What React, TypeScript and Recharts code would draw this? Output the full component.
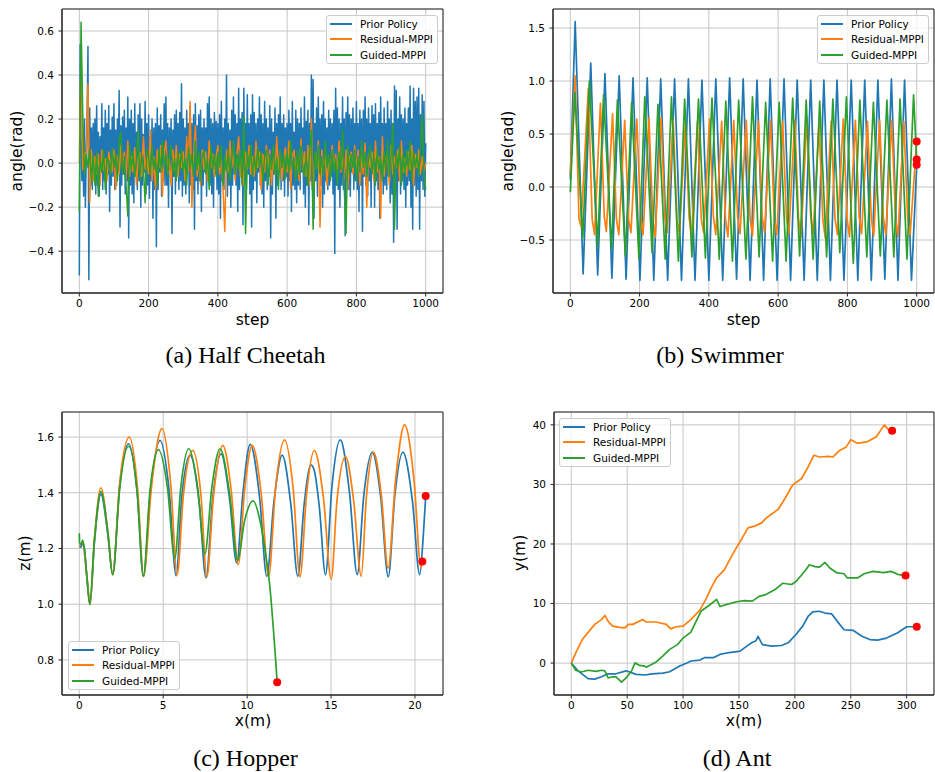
import React from 'react';
import { ComposedChart, Line, XAxis, YAxis, CartesianGrid, ReferenceArea, ReferenceDot } from 'recharts';

const COLORS = ['#1f77b4', '#ff7f0e', '#2ca02c'];
const SERIES_NAMES = ['Prior Policy', 'Residual-MPPI', 'Guided-MPPI'];

// ---------- (a) Half Cheetah ----------
const cheetahStepsFine = Array.from({ length: 401 }, (_, i) => i * 2.5);
const cheetahSteps = Array.from({ length: 201 }, (_, i) => i * 5);
const cheetahPrior = [
  -0.51, 0.54, 0.1, -0.08, 0.12, -0.15, 0.2, -0.2, 0.02, 0.22,
  0.53, -0.53, 0.25, -0.1, 0.16, -0.12, 0.18, -0.06, 0.2, -0.14,
  0.26, -0.1, 0.14, -0.15, 0.12, -0.04, 0.27, -0.12, 0.16, -0.08,
  0.24, -0.14, 0.18, -0.05, 0.26, -0.22, 0.15, -0.1, 0.21, -0.06,
  0.27, -0.12, 0.15, -0.1, 0.2, -0.02, 0.33, -0.29, 0.17, -0.1,
  0.21, -0.05, 0.24, -0.14, 0.16, -0.08, 0.3, -0.34, 0.2, -0.1,
  0.24, -0.14, 0.18, -0.18, 0.27, -0.06, 0.14, -0.12, 0.22, -0.08,
  0.27, -0.2, 0.2, -0.1, 0.13, -0.04, 0.28, -0.14, 0.18, -0.1,
  0.22, -0.16, 0.12, -0.08, 0.2, -0.25, 0.16, -0.12, 0.18, -0.38,
  0.25, -0.12, 0.17, -0.04, 0.22, -0.15, 0.15, -0.08, 0.27, -0.1,
  0.3, -0.1, 0.18, -0.2, 0.16, -0.03, 0.2, -0.32, 0.15, -0.06,
  0.22, -0.14, 0.24, -0.05, 0.18, -0.12, 0.23, -0.08, 0.36, -0.15,
  0.2, -0.1, 0.16, -0.14, 0.24, -0.04, 0.18, -0.18, 0.26, -0.1,
  0.18, -0.12, 0.22, -0.3, 0.27, -0.08, 0.17, -0.14, 0.22, -0.08,
  0.24, -0.22, 0.16, -0.1, 0.2, -0.04, 0.16, -0.15, 0.27, -0.08,
  0.3, -0.1, 0.2, -0.14, 0.18, -0.2, 0.23, -0.05, 0.19, -0.12,
  0.18, -0.14, 0.22, -0.25, 0.28, -0.08, 0.16, -0.12, 0.2, -0.03,
  0.4, -0.15, 0.18, -0.1, 0.15, -0.2, 0.24, -0.1, 0.3, -0.05,
  0.22, -0.1, 0.18, -0.22, 0.34, -0.12, 0.2, -0.04, 0.23, -0.28,
  0.34, -0.1, 0.18, -0.12, 0.31, -0.05, 0.18, -0.14, 0.22, -0.29,
  0.31, -0.12, 0.23, -0.08, 0.18, -0.18, 0.2, -0.04, 0.3, -0.1,
  0.22, -0.14, 0.18, -0.2, 0.28, -0.08, 0.2, -0.12, 0.16, -0.06,
  0.26, -0.34, 0.2, -0.14, 0.14, -0.05, 0.25, -0.25, 0.18, -0.1,
  0.22, -0.04, 0.3, -0.12, 0.18, -0.08, 0.22, -0.15, 0.16, -0.06,
  0.18, -0.15, 0.24, -0.08, 0.18, -0.22, 0.28, -0.1, 0.14, -0.12,
  0.24, -0.18, 0.2, -0.1, 0.18, -0.12, 0.25, -0.04, 0.16, -0.14,
  0.3, -0.2, 0.19, -0.1, 0.24, -0.28, 0.18, -0.08, 0.4, -0.12,
  0.38, -0.25, 0.18, -0.08, 0.25, -0.15, 0.3, -0.04, 0.2, -0.1,
  0.22, -0.2, 0.28, -0.14, 0.2, -0.08, 0.16, -0.12, 0.24, -0.1,
  0.2, -0.06, 0.18, -0.14, 0.24, -0.41, 0.34, -0.1, 0.25, -0.12,
  0.2, -0.2, 0.18, -0.1, 0.3, -0.12, 0.2, -0.33, 0.23, -0.08,
  0.3, -0.12, 0.22, -0.15, 0.2, -0.04, 0.25, -0.12, 0.18, -0.08,
  0.28, -0.12, 0.18, -0.22, 0.24, -0.1, 0.2, -0.31, 0.24, -0.06,
  0.3, -0.1, 0.2, -0.15, 0.25, -0.08, 0.18, -0.2, 0.26, -0.04,
  0.22, -0.2, 0.27, -0.08, 0.18, -0.12, 0.23, -0.25, 0.3, -0.08,
  0.18, -0.14, 0.25, -0.1, 0.18, -0.12, 0.28, -0.06, 0.2, -0.18,
  0.24, -0.14, 0.18, -0.36, 0.35, -0.12, 0.33, -0.3, 0.2, -0.08,
  0.3, -0.14, 0.22, -0.08, 0.2, -0.12, 0.25, -0.2, 0.18, -0.1,
  0.25, -0.08, 0.35, -0.2, 0.2, -0.3, 0.34, -0.1, 0.28, -0.15,
  0.3, -0.12, 0.34, -0.3, 0.22, -0.08, 0.31, -0.12, 0.28, -0.15,
  0.09,
];
const cheetahResidual = [
  0.0, 0.52, -0.03, 0.05, 0.02, 0.36, -0.18, 0.06, -0.08, 0.03,
  -0.05, 0.04, -0.1, 0.06, -0.03, 0.02, -0.08, 0.05, 0.0, -0.04,
  0.06, -0.12, 0.03, -0.05, 0.08, -0.02, 0.05, -0.08, 0.1, -0.06,
  0.03, -0.04, 0.07, -0.1, 0.02, 0.05, -0.06, 0.12, -0.03, 0.04,
  -0.05, 0.15, -0.08, 0.03, -0.12, 0.06, -0.02, 0.08, -0.15, 0.05,
  0.1, -0.05, 0.02, -0.1, 0.06, -0.03, 0.08, -0.06, 0.04, -0.02,
  0.05, -0.08, 0.12, -0.04, 0.28, -0.2, 0.03, 0.17, -0.06, 0.02,
  -0.1, 0.06, -0.03, 0.05, -0.08, 0.1, -0.02, 0.04, -0.06, 0.03,
  0.08, -0.05, 0.02, -0.12, -0.31, 0.06, -0.04, 0.1, -0.02, 0.05,
  -0.08, 0.04, 0.12, -0.06, 0.02, -0.1, 0.05, -0.03, 0.08, -0.05,
  0.03, -0.06, 0.1, -0.02, 0.05, -0.12, 0.04, -0.04, 0.08, -0.02,
  0.06, -0.1, 0.03, -0.05, 0.12, -0.03, 0.05, -0.08, 0.02, 0.07,
  -0.04, 0.1, -0.12, 0.03, 0.06, -0.05, 0.02, -0.08, 0.11, -0.03,
  0.05, -0.06, 0.08, -0.1, 0.2, -0.15, 0.04, -0.02, 0.1, -0.29,
  0.06, -0.03, 0.05, -0.1, 0.02, -0.05, 0.08, -0.02, 0.04, -0.06,
  0.1, -0.04, 0.03, -0.08, 0.06, -0.12, 0.02, 0.05, -0.05, 0.08,
  -0.03, 0.06, -0.1, 0.03, -0.05, 0.09, -0.2, 0.04, -0.02, 0.05,
  -0.08, 0.1, -0.04, 0.03, -0.25, 0.12, -0.06, 0.02, 0.05, -0.1,
  0.08, -0.05, 0.03, -0.02, 0.06, -0.08, 0.1, -0.04, 0.02, -0.06,
  0.05, -0.03, 0.08, -0.1, 0.04, -0.02, 0.06, -0.05, 0.03, -0.04,
  0.0,
];
const cheetahGuided = [
  -0.22, 0.64, 0.22, -0.05, 0.04, -0.02, 0.06, -0.08, 0.03, -0.1,
  0.05, -0.15, 0.02, -0.04, 0.06, -0.12, 0.03, 0.0, -0.05, 0.07,
  -0.02, 0.04, -0.08, 0.1, 0.14, -0.05, 0.03, -0.1, -0.24, 0.08,
  -0.03, 0.05, -0.06, 0.02, 0.15, -0.08, 0.04, -0.02, -0.18, 0.06,
  0.03, -0.05, 0.08, -0.03, 0.02, -0.1, 0.06, -0.04, 0.1, -0.02,
  0.04, -0.06, 0.03, 0.08, -0.05, 0.02, -0.08, 0.05, -0.03, 0.06,
  -0.04, 0.02, -0.1, 0.07, -0.02, 0.04, -0.06, 0.1, -0.03, 0.05,
  -0.08, 0.03, 0.06, -0.05, 0.02, -0.12, 0.08, -0.03, 0.04, -0.06,
  0.05, -0.02, 0.08, -0.1, 0.03, -0.04, 0.06, -0.08, 0.02, 0.1,
  -0.05, 0.04, -0.03, 0.06, -0.1, 0.21, -0.32, 0.05, -0.02, 0.08,
  -0.06, 0.03, -0.04, 0.07, -0.02, 0.05, -0.08, 0.03, 0.06, -0.1,
  0.04, -0.03, 0.08, -0.05, 0.02, -0.12, 0.06, -0.02, 0.04, -0.07,
  0.05, -0.04, 0.1, -0.03, 0.02, -0.08, 0.06, -0.05, 0.08, -0.02,
  -0.06, 0.04, -0.1, 0.06, 0.15, -0.3, 0.05, -0.03, 0.08, -0.05,
  0.03, -0.06, 0.1, -0.02, 0.04, -0.08, 0.06, -0.04, 0.02, -0.1,
  0.05, -0.03, 0.15, -0.12, -0.32, 0.08, -0.05, 0.04, -0.02, 0.06,
  -0.08, 0.03, -0.04, 0.1, -0.02, 0.05, -0.06, 0.02, 0.08, -0.05,
  0.04, -0.1, 0.06, -0.03, 0.02, -0.08, 0.05, -0.04, 0.1, -0.06,
  0.03, 0.18, -0.3, 0.05, -0.02, 0.08, -0.1, 0.04, -0.05, 0.06,
  -0.03, 0.1, -0.08, 0.05, -0.02, 0.04, -0.06, 0.08, 0.22, -0.05,
  -0.12,
];
const cheetahXTicks = [0, 200, 400, 600, 800, 1000];
const cheetahYTicks = [-0.4, -0.2, 0, 0.2, 0.4, 0.6];

// ---------- (b) Swimmer ----------
const swimmerPrior: [number, number][] = [
  [0, 0.07], [14, 1.56], [37, -0.82], [59, 1.17], [79, -0.83], [100, 1.07], [120, -0.86],
  [141, 1.05], [161, -0.87], [181, 1.03], [201, -0.88], [222, 1.03], [241, -0.88],
  [261, 1.02], [281, -0.88], [301, 1.02], [321, -0.88], [341, 1.02], [360, -0.88],
  [380, 1.01], [400, -0.88], [420, 1.02], [440, -0.88], [460, 1.03], [480, -0.87],
  [499, 1.02], [519, -0.88], [539, 1.01], [558, -0.88], [577, 1.02], [597, -0.88],
  [617, 1.02], [636, -0.88], [655, 1.01], [675, -0.88], [694, 1.01], [713, -0.88],
  [732, 1.01], [751, -0.88], [770, 1.01], [790, -0.88], [811, 1.01], [830, -0.88],
  [850, 1.01], [869, -0.88], [888, 1.01], [908, -0.87], [927, 1.02], [946, -0.88],
  [965, 1.01], [985, -0.88], [1000, 0.2],
];
const swimmerResidual: [number, number][] = [
  [0, 0.12], [14, 1.05], [25, -0.3], [31, -0.37],
  [52, 0.93], [63, -0.3], [70, -0.45], [87, 0.79], [98, -0.28], [104, -0.42],
  [122, 0.69], [133, -0.3], [140, -0.45], [157, 0.63], [168, -0.3], [175, -0.43],
  [192, 0.64], [203, -0.29], [210, -0.45], [227, 0.65], [238, -0.3], [245, -0.47],
  [262, 0.65], [273, -0.28], [280, -0.43], [297, 0.63], [308, -0.3], [315, -0.44],
  [332, 0.6], [343, -0.29], [350, -0.46], [367, 0.62], [378, -0.3], [385, -0.43],
  [402, 0.64], [413, -0.28], [420, -0.45], [437, 0.62], [448, -0.3], [455, -0.47],
  [472, 0.63], [483, -0.29], [490, -0.44], [508, 0.63], [519, -0.3], [526, -0.46],
  [543, 0.62], [554, -0.28], [561, -0.43], [578, 0.63], [589, -0.3], [596, -0.45],
  [613, 0.62], [624, -0.29], [631, -0.44], [648, 0.63], [659, -0.3], [666, -0.47],
  [683, 0.65], [694, -0.28], [701, -0.44], [718, 0.6], [729, -0.3], [736, -0.48],
  [753, 0.62], [764, -0.29], [771, -0.45], [788, 0.64], [799, -0.3], [806, -0.47],
  [823, 0.63], [834, -0.28], [841, -0.44], [858, 0.62], [869, -0.3], [876, -0.46],
  [893, 0.63], [904, -0.29], [911, -0.45], [928, 0.63], [939, -0.3], [946, -0.47],
  [963, 0.62], [974, -0.3], [981, -0.45], [1000, 0.43],
];
const swimmerGuided: [number, number][] = [
  [0, -0.05], [13, 0.89], [36, -0.48], [55, 1.0], [79, -0.56], [96, 0.87], [119, -0.58],
  [136, 0.82], [159, -0.65], [177, 0.8], [198, -0.67], [215, 0.85], [236, -0.62],
  [253, 0.78], [274, -0.68], [292, 0.85], [312, -0.7], [330, 0.83], [351, -0.66],
  [370, 0.83], [390, -0.67], [409, 0.84], [430, -0.68], [449, 0.81], [468, -0.7],
  [486, 0.82], [507, -0.68], [526, 0.85], [545, -0.66], [564, 0.8], [584, -0.7],
  [603, 0.8], [623, -0.7], [642, 0.84], [662, -0.65], [681, 0.82], [701, -0.68],
  [720, 0.81], [740, -0.66], [758, 0.83], [778, -0.62], [797, 0.85], [817, -0.72],
  [836, 0.82], [856, -0.66], [875, 0.8], [895, -0.65], [914, 0.82], [934, -0.66],
  [952, 0.83], [972, -0.68], [991, 0.87], [1000, 0.26],
];
const swimmerEnds: [number, number][] = [[1000, 0.43], [1000, 0.26], [1000, 0.21]];
const swimmerYTicks = [-0.5, 0, 0.5, 1.0, 1.5];

// ---------- (c) Hopper ----------
const hopperPrior: [number, number][] = [
  [0, 1.207], [0.1, 1.205], [0.2, 1.22], [0.3, 1.2], [0.45, 1.1], [0.64, 0.999],
  [0.9, 1.22], [1.29, 1.395], [1.7, 1.25], [1.99, 1.106],
  [2.4, 1.42], [2.94, 1.576], [3.45, 1.4], [3.82, 1.1],
  [4.25, 1.41], [4.81, 1.588], [5.35, 1.41], [5.77, 1.102],
  [6.1, 1.38], [6.6, 1.535], [7.15, 1.36], [7.55, 1.094],
  [7.95, 1.38], [8.45, 1.54], [8.95, 1.38], [9.38, 1.148],
  [9.75, 1.4], [10.18, 1.574], [10.75, 1.38], [11.17, 1.1],
  [11.6, 1.37], [12.09, 1.535], [12.6, 1.36], [13.02, 1.1],
  [13.4, 1.36], [13.8, 1.5], [14.0, 1.48], [14.3, 1.35], [14.67, 1.106],
  [15.05, 1.42], [15.55, 1.59], [16.1, 1.4], [16.56, 1.106],
  [16.95, 1.39], [17.46, 1.546], [17.95, 1.39], [18.41, 1.098],
  [18.8, 1.39], [19.28, 1.546], [19.85, 1.37], [20.28, 1.106],
  [20.5, 1.25], [20.64, 1.388],
];
const hopperResidual: [number, number][] = [
  [0, 1.21], [0.2, 1.22], [0.45, 1.1], [0.64, 1.0],
  [0.9, 1.23], [1.29, 1.418], [1.7, 1.26], [1.99, 1.106],
  [2.4, 1.43], [2.98, 1.6], [3.48, 1.41], [3.83, 1.1],
  [4.3, 1.42], [4.93, 1.63], [5.45, 1.43], [5.83, 1.106],
  [6.2, 1.39], [6.76, 1.552], [7.25, 1.39], [7.6, 1.098],
  [8.0, 1.39], [8.55, 1.57], [9.05, 1.41], [9.47, 1.142],
  [9.85, 1.41], [10.3, 1.57], [10.85, 1.39], [11.28, 1.1],
  [11.7, 1.42], [12.23, 1.59], [12.75, 1.41], [13.15, 1.098],
  [13.55, 1.4], [14.0, 1.552], [14.55, 1.38], [15.01, 1.09],
  [15.35, 1.37], [15.86, 1.53], [16.35, 1.37], [16.8, 1.1],
  [17.1, 1.38], [17.53, 1.546], [18.0, 1.39], [18.4, 1.13],
  [18.85, 1.45], [19.38, 1.644], [19.95, 1.44], [20.36, 1.13], [20.44, 1.153],
];
const hopperGuided: [number, number][] = [
  [0, 1.255], [0.02, 1.22], [0.1, 1.215], [0.2, 1.23], [0.3, 1.2], [0.45, 1.1], [0.62, 1.0],
  [0.9, 1.23], [1.29, 1.404], [1.7, 1.26], [1.99, 1.106],
  [2.4, 1.41], [2.94, 1.567], [3.45, 1.4], [3.82, 1.1],
  [4.2, 1.4], [4.71, 1.555], [5.25, 1.42], [5.69, 1.165],
  [6.05, 1.42], [6.52, 1.558], [7.05, 1.42], [7.48, 1.18],
  [7.9, 1.42], [8.39, 1.558], [8.95, 1.4], [9.44, 1.157],
  [9.85, 1.3], [10.36, 1.371], [10.8, 1.29], [11.13, 1.17], [11.33, 1.076], [11.79, 0.72],
];
const hopperEnds: [number, number][] = [[20.64, 1.388], [20.44, 1.153], [11.79, 0.72]];
const hopperXTicks = [0, 5, 10, 15, 20];
const hopperYTicks = [0.8, 1.0, 1.2, 1.4, 1.6];

// ---------- (d) Ant ----------
const antPrior: [number, number][] = [
  [0, 0], [6, -1.3], [15, -2.6], [21, -2.7], [27, -2.3], [33, -1.8], [40, -1.8], [49, -1.3],
  [58, -1.9], [66, -2.0], [72, -1.8], [82, -1.7], [88, -1.45], [97, -0.5], [104, 0.05],
  [107, 0.35], [115, 0.5], [119, 0.9], [127, 0.9], [133, 1.45], [139, 1.7], [145, 1.85],
  [151, 2.0], [157, 2.85], [162, 3.5], [165, 3.7], [167, 4.5], [171, 3.1], [179, 2.85],
  [188, 2.95], [194, 3.4], [201, 4.8], [207, 6.2], [212, 7.9], [216, 8.6], [222, 8.7],
  [227, 8.4], [233, 8.25], [239, 6.75], [244, 5.6], [252, 5.5], [260, 4.5], [267, 3.95],
  [274, 3.85], [282, 4.2], [292, 5.1], [300, 6.1], [309, 6.1],
];
const antResidual: [number, number][] = [
  [0, 0], [4, 1.7], [10, 4.0], [21, 6.5], [27, 7.3], [30, 8.0], [33, 7.0], [37, 6.2],
  [43, 6.0], [48, 5.9], [51, 6.5], [55, 6.5], [64, 7.3], [67, 6.9], [76, 6.9], [85, 6.5],
  [89, 5.75], [94, 6.1], [100, 6.2], [107, 7.3], [115, 8.9], [121, 10.9], [125, 12.6],
  [130, 14.3], [137, 15.7], [145, 18.5], [152, 20.7], [158, 22.7], [164, 23.0], [170, 23.5],
  [174, 24.3], [179, 25.0], [185, 25.8], [191, 27.6], [198, 29.9], [206, 31.0], [212, 33.0],
  [217, 34.9], [222, 34.6], [230, 34.7], [234, 34.6], [240, 35.7], [246, 36.3], [250, 37.5],
  [256, 36.9], [265, 37.2], [273, 38.0], [280, 40.0], [284, 39.1], [287, 39.0],
];
const antGuided: [number, number][] = [
  [0, 0], [4, -1.2], [9, -1.5], [15, -1.2], [22, -1.4], [27, -1.2], [30, -1.3], [33, -2.5],
  [37, -2.3], [40, -2.3], [45, -3.2], [49, -2.5], [54, -1.3], [57, 0.05], [61, -0.4],
  [66, -0.5], [67, -0.7], [76, 0.2], [82, 1.2], [88, 2.3], [95, 3.1], [100, 4.2], [107, 5.2],
  [116, 8.7], [124, 9.8], [130, 10.7], [133, 9.5], [140, 9.9], [148, 10.3], [155, 10.5],
  [162, 10.4], [168, 11.2], [174, 11.5], [182, 12.3], [189, 13.4], [197, 13.2], [201, 13.7],
  [206, 14.8], [210, 15.7], [213, 16.5], [218, 16.2], [222, 16.1], [227, 16.9], [231, 16.0],
  [237, 15.2], [244, 15.0], [247, 14.3], [256, 14.3], [262, 15.0], [270, 15.4], [279, 15.2],
  [286, 15.4], [292, 14.9], [299, 14.7],
];
const antEnds: [number, number][] = [[287, 39.0], [299, 14.7], [309, 6.1]];
const antXTicks = [0, 50, 100, 150, 200, 250, 300];
const antYTicks = [0, 10, 20, 30, 40];

// ---------- helpers ----------
type Pt = { x: number; y: number };
const fromPairs = (a: [number, number][]): Pt[] => a.map(([x, y]) => ({ x, y }));
const fromSteps = (steps: number[], ys: number[]): Pt[] => ys.map((y, i) => ({ x: steps[i], y }));
const minus = (s: string) => s.replace('-', '\u2212');
const fmt1 = (v: number) => minus(v.toFixed(1));
const fmt0 = (v: number) => minus(String(Math.round(v)));

const TICK_FONT = { fontSize: 10.5, fontFamily: 'DejaVu Sans', fill: '#000' };
const SPINE = '#262626';
const LW = 1.7;

type PanelProps = {
  left: number; top: number; width: number; height: number;
  plot: { left: number; top: number; right: number; bottom: number };
  xDomain: [number, number]; yDomain: [number, number];
  xTicks: number[]; yTicks: number[];
  xFmt: (v: number) => string; yFmt: (v: number) => string;
  series: Pt[][];
  ends?: [number, number][];
  curve: 'linear' | 'monotone';
  lw?: number;
};

function Panel(p: PanelProps) {
  return (
    <div style={{ position: 'absolute', left: p.left, top: p.top, width: p.width, height: p.height }}>
      <ComposedChart
        width={p.width}
        height={p.height}
        margin={{ top: p.plot.top, right: p.width - p.plot.right, left: 0, bottom: 0 }}
      >
        <CartesianGrid stroke="#c6c6c6" strokeWidth={1} />
        <XAxis
          type="number"
          dataKey="x"
          domain={p.xDomain}
          ticks={p.xTicks}
          interval={0}
          allowDataOverflow
          height={p.height - p.plot.bottom}
          tickSize={3.5}
          tickMargin={3.5}
          tick={TICK_FONT}
          tickFormatter={p.xFmt}
          axisLine={{ stroke: SPINE }}
          tickLine={{ stroke: SPINE }}
        />
        <YAxis
          type="number"
          dataKey="y"
          domain={p.yDomain}
          ticks={p.yTicks}
          interval={0}
          allowDataOverflow
          width={p.plot.left}
          tickSize={3.5}
          tickMargin={4.5}
          tick={TICK_FONT}
          tickFormatter={p.yFmt}
          axisLine={{ stroke: SPINE }}
          tickLine={{ stroke: SPINE }}
        />
        {p.series.map((pts, i) => (
          <Line
            key={SERIES_NAMES[i]}
            name={SERIES_NAMES[i]}
            data={pts}
            dataKey="y"
            type={p.curve}
            stroke={COLORS[i]}
            strokeWidth={p.lw ?? LW}
            strokeLinejoin="round"
            dot={false}
            activeDot={false}
            isAnimationActive={false}
          />
        ))}
        <ReferenceArea
          x1={p.xDomain[0]}
          x2={p.xDomain[1]}
          y1={p.yDomain[0]}
          y2={p.yDomain[1]}
          fill="none"
          fillOpacity={0}
          stroke={SPINE}
          strokeWidth={1}
          ifOverflow="visible"
        />
        {(p.ends || []).map(([x, y], i) => (
          <ReferenceDot key={i} x={x} y={y} r={4} fill="#ff0000" stroke="none" ifOverflow="visible" />
        ))}
      </ComposedChart>
    </div>
  );
}

function LegendBox({ left, top }: { left: number; top: number }) {
  return (
    <div
      style={{
        position: 'absolute', left, top, width: 112, height: 49, boxSizing: 'border-box',
        border: '1px solid #cccccc', borderRadius: 3, background: 'rgba(255,255,255,0.8)',
      }}
    >
      {SERIES_NAMES.map((n, i) => (
        <div key={n} style={{ position: 'absolute', left: 0, top: 7.5 + i * 15.6, height: 0 }}>
          <div style={{ position: 'absolute', left: 3, top: -1, width: 22, height: 2, background: COLORS[i] }} />
          <div
            style={{
              position: 'absolute', left: 33, top: -7, lineHeight: '14px', fontSize: 10.5,
              fontFamily: 'DejaVu Sans', color: '#000', whiteSpace: 'nowrap',
            }}
          >
            {n}
          </div>
        </div>
      ))}
    </div>
  );
}

function CText({ x, y, text, size, family, rotate }: { x: number; y: number; text: string; size: number; family: string; rotate?: boolean }) {
  return (
    <div
      style={{
        position: 'absolute', left: x, top: y, whiteSpace: 'nowrap', fontSize: size, fontFamily: family,
        lineHeight: 1, color: '#000',
        transform: `translate(-50%, -50%)${rotate ? ' rotate(-90deg)' : ''}`,
      }}
    >
      {text}
    </div>
  );
}

const SANS = 'DejaVu Sans';
const SERIF = "'Liberation Serif', 'Times New Roman', serif";

export default function App() {
  return (
    <div style={{ position: 'absolute', left: 0, top: 0, width: 935, height: 772, background: '#fff', overflow: 'hidden' }}>
      <Panel
        left={0} top={0} width={460} height={340}
        plot={{ left: 62, top: 9, right: 443, bottom: 293 }}
        xDomain={[-50, 1050]} yDomain={[-0.59, 0.7]}
        xTicks={cheetahXTicks} yTicks={cheetahYTicks}
        xFmt={fmt0} yFmt={fmt1}
        series={[
          fromSteps(cheetahStepsFine, cheetahPrior),
          fromSteps(cheetahSteps, cheetahResidual),
          fromSteps(cheetahSteps, cheetahGuided),
        ]}
        curve="linear"
        lw={1.5}
      />
      <Panel
        left={470} top={0} width={465} height={340}
        plot={{ left: 83, top: 9, right: 464, bottom: 293 }}
        xDomain={[-50, 1050]} yDomain={[-1.0, 1.68]}
        xTicks={cheetahXTicks} yTicks={swimmerYTicks}
        xFmt={fmt0} yFmt={fmt1}
        series={[fromPairs(swimmerPrior), fromPairs(swimmerResidual), fromPairs(swimmerGuided)]}
        ends={swimmerEnds}
        curve="linear"
      />
      <Panel
        left={0} top={390} width={460} height={382}
        plot={{ left: 62, top: 22, right: 443, bottom: 305 }}
        xDomain={[-1.03, 21.67]} yDomain={[0.674, 1.69]}
        xTicks={hopperXTicks} yTicks={hopperYTicks}
        xFmt={fmt0} yFmt={fmt1}
        series={[fromPairs(hopperPrior), fromPairs(hopperResidual), fromPairs(hopperGuided)]}
        ends={hopperEnds}
        curve="monotone"
      />
      <Panel
        left={470} top={390} width={465} height={382}
        plot={{ left: 84, top: 22, right: 464, bottom: 305 }}
        xDomain={[-15.45, 324.45]} yDomain={[-5.36, 42.16]}
        xTicks={antXTicks} yTicks={antYTicks}
        xFmt={fmt0} yFmt={fmt0}
        series={[fromPairs(antPrior), fromPairs(antResidual), fromPairs(antGuided)]}
        ends={antEnds}
        curve="linear"
      />

      <LegendBox left={326} top={15} />
      <LegendBox left={817} top={15} />
      <LegendBox left={68} top={641} />
      <LegendBox left={559} top={418} />

      <CText x={18} y={151} text="angle(rad)" size={15.5} family={SANS} rotate />
      <CText x={252.5} y={321} text="step" size={15.5} family={SANS} />
      <CText x={509} y={151} text="angle(rad)" size={15.5} family={SANS} rotate />
      <CText x={743.5} y={321} text="step" size={15.5} family={SANS} />
      <CText x={26} y={553} text="z(m)" size={15.5} family={SANS} rotate />
      <CText x={253} y={722} text="x(m)" size={15.5} family={SANS} />
      <CText x={521} y={553} text="y(m)" size={15.5} family={SANS} rotate />
      <CText x={744} y={722} text="x(m)" size={15.5} family={SANS} />

      <CText x={245.5} y={355} text="(a) Half Cheetah" size={24} family={SERIF} />
      <CText x={720} y={355} text="(b) Swimmer" size={24} family={SERIF} />
      <CText x={245.5} y={758} text="(c) Hopper" size={24} family={SERIF} />
      <CText x={737} y={758} text="(d) Ant" size={24} family={SERIF} />
    </div>
  );
}
